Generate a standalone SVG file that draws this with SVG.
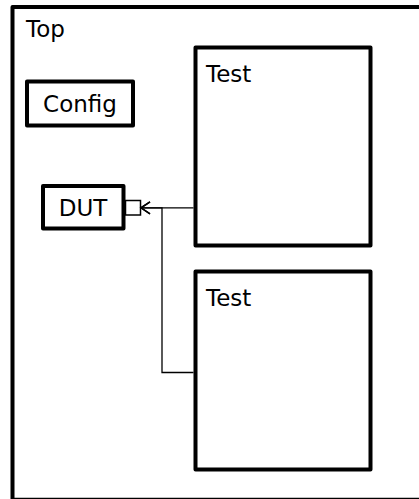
<svg xmlns="http://www.w3.org/2000/svg" width="419" height="499" viewBox="0 0 419 499">
<style>
.box{fill:#fff;stroke:#000;stroke-width:4;stroke-linejoin:round}
.lbl{font-family:"DejaVu Sans",sans-serif;font-size:23px;fill:#000}
.port{fill:#fff;stroke:#000;stroke-width:1.5}
.conn{fill:none;stroke:#000;stroke-width:1.3}
</style>
<defs>
<marker id="arr" markerWidth="12" markerHeight="14" refX="10" refY="7" orient="auto" markerUnits="userSpaceOnUse">
<path d="M1,1 L10,7 L1,13" fill="none" stroke="#000" stroke-width="1.5"/>
</marker>
</defs>
<g id="top">
<rect class="box" x="12.5" y="7" width="420" height="492.8"/>
<text class="lbl" x="26" y="37">Top</text>
</g>
<g id="config">
<rect class="box" x="27" y="81.5" width="106" height="44"/>
<text class="lbl" x="80" y="112" text-anchor="middle">Config</text>
</g>
<g id="dut">
<rect class="box" x="43" y="186" width="80.5" height="42.5"/>
<text class="lbl" x="83" y="215.5" text-anchor="middle">DUT</text>
<rect class="port" x="125.5" y="200.5" width="15" height="14.5"/>
</g>
<g id="test1">
<rect class="box" x="195.5" y="47.5" width="175" height="198"/>
<text class="lbl" x="206" y="82">Test</text>
</g>
<g id="test2">
<rect class="box" x="195.5" y="271.5" width="175" height="198"/>
<text class="lbl" x="206" y="306">Test</text>
</g>
<g id="connectors">
<path class="conn" d="M193.5,207.8 L141,207.8" marker-end="url(#arr)"/>
<path class="conn" d="M193.5,372.5 L162,372.5 L162,207.8 L141,207.8" marker-end="url(#arr)"/>
</g>
</svg>
